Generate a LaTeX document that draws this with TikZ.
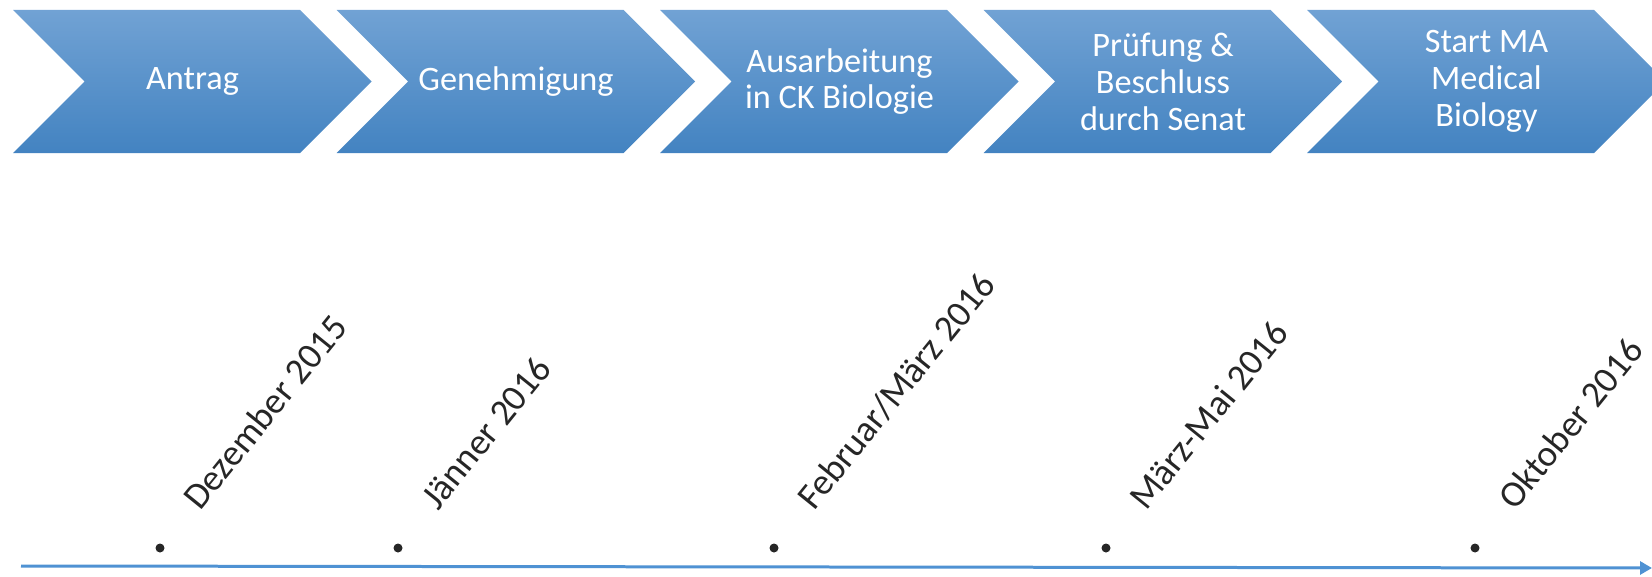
\documentclass[tikz,border=0pt]{standalone}
\usepackage{fontspec}
\setmainfont{Carlito}
\usepackage{xcolor}
\usepackage{tikz}
\usetikzlibrary{arrows.meta}
\definecolor{chevtop}{RGB}{113,162,212}
\definecolor{chevbot}{RGB}{67,131,193}
\definecolor{timeblue}{RGB}{79,146,211}
\definecolor{dategray}{RGB}{38,38,38}
\tikzstyle{chevron} = [top color=chevtop, bottom color=chevbot]
\tikzstyle{steptext} = [white, align=center, inner sep=0, font=\fontsize{19.5}{21}\selectfont]
\tikzstyle{datetext} = [dategray, rotate=51, anchor=base west, inner sep=0, font=\fontsize{21}{24}\selectfont]
\tikzstyle{datedot} = [circle, fill=dategray, inner sep=0, minimum size=0.18cm]
\tikzstyle{timeline} = [timeblue, line width=0.06cm, -{Triangle[length=0.24cm,width=0.26cm]}]

\begin{document}
\begin{tikzpicture}[x=0.02cm,y=0.02cm]
	\useasboundingbox (0,0) rectangle (1652,576);

	% Chevrons:
	% one shaded arrow shape per step, text centred in the body
	\foreach \i/\txt in {1/Antrag, 2/Genehmigung, 3/{Ausarbeitung\\in CK Biologie}, 4/{Prüfung \&\\Beschluss\\durch Senat}, 5/{Start MA\\Medical\\Biology}}
	{
		\pgfmathsetmacro{\xa}{13+323.5*(\i-1)}
		\shade[chevron] (\xa,566) -- ++(287,0) -- ++(71.5,-71.5) -- ++(-71.5,-71.5) -- ++(-287,0) -- ++(71.5,71.5) -- cycle;
		\node[steptext] (s\i) at (\xa+179.5,494.5) {\txt};
	}

	% Timeline:
	\coordinate (t0) at (21,10);
	\coordinate (t1) at (1652,8);
	\draw[timeline] (t0) -- (t1);

	% Dates:
	% dots above the line, labels turned upwards
	\foreach \i/\xd/\txt in {1/160/{Dezember 2015}, 2/398/{Jänner 2016}, 3/774/{Februar/März 2016}, 4/1106/{März-Mai 2016}, 5/1475/{Oktober 2016}}
	{
		\node[datedot] (d\i) at (\xd,28) {};
		\node[datetext] (l\i) at ([shift={(40,36)}]d\i.center) {\txt};
	}

\end{tikzpicture}
\end{document}
